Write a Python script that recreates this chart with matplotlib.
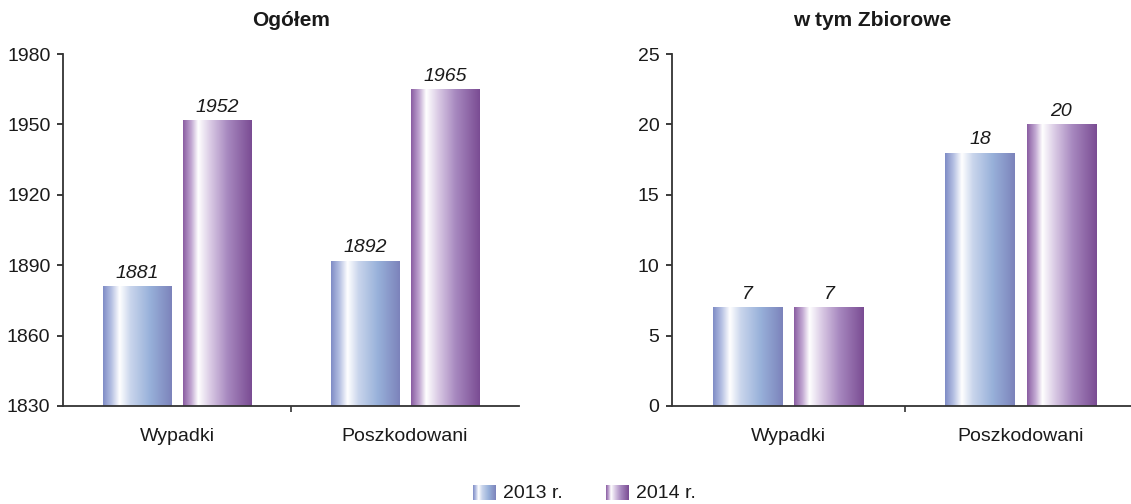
import numpy as np
import matplotlib
matplotlib.use("Agg")
from matplotlib import pyplot as plt
from matplotlib.colors import LinearSegmentedColormap

plt.rcParams['font.family'] = ['Liberation Sans', 'DejaVu Sans']

##### Data #####
categories = ["Wypadki", "Poszkodowani"]
years = ["2013 r.", "2014 r."]
ogolem_2013 = [1881, 1892]
ogolem_2014 = [1952, 1965]
zbiorowe_2013 = [7, 18]
zbiorowe_2014 = [7, 20]

# gradients (left -> right), like the original shaded bars
blue_cm = LinearSegmentedColormap.from_list("b", [
    (0.0, "#7f8cc6"), (0.12, "#b4bfe2"), (0.24, "#ffffff"), (0.40, "#c9d5ec"),
    (0.68, "#98b1da"), (1.0, "#7c83bb")])
purple_cm = LinearSegmentedColormap.from_list("p", [
    (0.0, "#8a5da2"), (0.12, "#c2a8d2"), (0.22, "#ffffff"), (0.40, "#d9c9e4"),
    (0.65, "#a788bf"), (1.0, "#7a4c93")])
grad = np.linspace(0, 1, 256).reshape(1, -1)

W, H = 1131, 504
fig = plt.figure(figsize=(W/100, H/100), dpi=100)


def gradient_bars(ax, x, vals, cmap, base):
    bars = ax.bar(x, np.array(vals) - base, width=0.3, bottom=base,
                  color="none", edgecolor="none")
    for b, v in zip(bars, vals):
        x0, y0 = b.get_x(), b.get_y()
        im = ax.imshow(grad, cmap=cmap, aspect="auto", zorder=2,
                       extent=[x0, x0 + b.get_width(), y0, y0 + b.get_height()])
        im.set_clip_path(b)
        ax.annotate(str(v), (b.get_x() + b.get_width()/2, v), xytext=(0, 3),
                    textcoords="offset points", ha="center", va="bottom",
                    fontsize=14, style="italic", color="#1a1a1a")


def setup(ax, lo, hi, step, s13, s14):
    x = np.arange(len(categories))
    gradient_bars(ax, x - 0.175, s13, blue_cm, lo)
    gradient_bars(ax, x + 0.175, s14, purple_cm, lo)
    ax.set_xlim(-0.5, 1.5)
    ax.set_ylim(lo, hi)
    ax.set_yticks(np.arange(lo, hi + 1, step))
    ax.set_xticks(x)
    ax.set_xticklabels(categories)
    ax.set_xticks([0.5], minor=True)
    for s in ["top", "right"]:
        ax.spines[s].set_visible(False)
    for s in ["left", "bottom"]:
        ax.spines[s].set_color("#333333")
        ax.spines[s].set_linewidth(1.3)
    ax.tick_params(axis="y", length=4, width=1.2, pad=5, labelsize=14, colors="#1a1a1a")
    ax.tick_params(axis="x", which="major", length=0, pad=16, labelsize=14, colors="#1a1a1a")
    ax.tick_params(axis="x", which="minor", length=4, width=1.2, color="#333333")


ax1 = fig.add_axes([63/W, 98/H, 456/W, 352/H])
setup(ax1, 1830, 1980, 30, ogolem_2013, ogolem_2014)

ax2 = fig.add_axes([672/W, 98/H, 465/W, 352/H])
setup(ax2, 0, 25, 5, zbiorowe_2013, zbiorowe_2014)

fig.text(291/W, 1 - 20/H, "Ogółem", ha="center", va="center", fontsize=15, fontweight="bold", color="#1a1a1a")
fig.text(872/W, 1 - 20/H, "w tym Zbiorowe", ha="center", va="center", fontsize=15, fontweight="bold", color="#1a1a1a")

# legend
for px, cm, lab in [(473, blue_cm, years[0]), (606, purple_cm, years[1])]:
    lax = fig.add_axes([px/W, 1 - 500/H, 22/W, 15/H])
    lax.imshow(grad, cmap=cm, aspect="auto")
    lax.axis("off")
    fig.text((px + 30)/W, 1 - 494/H, lab, ha="left", va="center", fontsize=14, color="#1a1a1a")

fig.savefig("out.png", dpi=100)
